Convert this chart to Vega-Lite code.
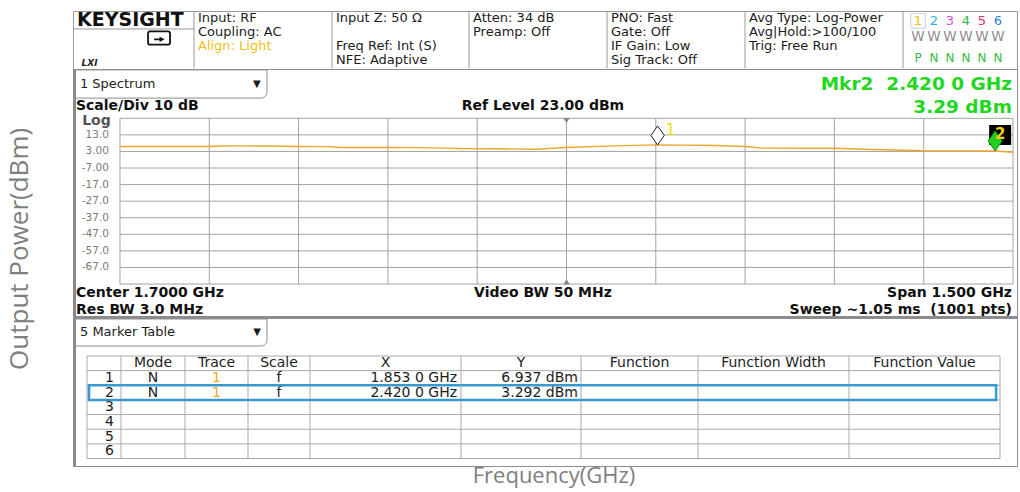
{
  "$schema": "https://vega.github.io/schema/vega-lite/v6.json",
  "background": "white",
  "padding": {"left": 6, "top": 10, "right": 0, "bottom": 0},
  "config": {
    "view": {"stroke": null},
    "axis": {"disable": true},
    "legend": {"disable": true},
    "text": {"font": "DejaVu Sans"}
  },
  "title": {"text": "Output Power(dBm)", "orient": "left", "anchor": "middle", "font": "Open Sans", "fontSize": 26, "fontWeight": "normal", "color": "#7f7f7f", "offset": 39},
  "spacing": 0,
  "bounds": "flush",
  "vconcat": [
    {
      "width": 944, "height": 58,
      "view": {"stroke": "#9a9a9a", "fill": "white"},
      "resolve": {"scale": {"x": "independent", "color": "independent"}},
      "layer": [
        {
          "layer": [
            {
              "data": {"values": [{"edge": 1}, {"edge": 2}, {"edge": 3}, {"edge": 4}, {"edge": 5}, {"edge": 6}]},
              "mark": {"type": "rule", "color": "#9a9a9a"},
              "encoding": {
                "x": {"field": "edge", "type": "quantitative", "scale": {"domain": [0, 1, 2, 3, 4, 5, 6, 7], "range": [0, 121, 259, 396, 534, 672, 830, 944], "nice": false, "zero": false}},
                "y": {"datum": 0.55, "type": "quantitative", "scale": {"domain": [0.525, 4.64], "range": [0, 58], "nice": false, "zero": false}},
                "y2": {"datum": 4.6}
              }
            },
            {
              "data": {"values": [{}]},
              "mark": {"type": "rule", "color": "#9a9a9a"},
              "encoding": {
                "x": {"datum": 0, "type": "quantitative"},
                "x2": {"datum": 1},
                "y": {"datum": 1.8, "type": "quantitative"}
              }
            },
            {
              "data": {"values": [{"brand": "KEYSIGHT"}]},
              "mark": {"type": "text", "fontWeight": "bold", "fontSize": 19, "align": "left", "baseline": "middle", "color": "#111111"},
              "encoding": {"x": {"datum": 0.033, "type": "quantitative"}, "y": {"datum": 1.16, "type": "quantitative"}, "text": {"field": "brand"}}
            },
            {
              "data": {"values": [{"t": "LXI"}]},
              "mark": {"type": "text", "fontStyle": "italic", "fontWeight": "bold", "fontSize": 9, "align": "left", "baseline": "middle", "color": "#222222"},
              "encoding": {"x": {"datum": 0.07, "type": "quantitative"}, "y": {"datum": 4.21, "type": "quantitative"}, "text": {"field": "t"}}
            },
            {
              "data": {"values": [{}]},
              "mark": {"type": "point", "shape": "M-0.8,-0.6L0.8,-0.6Q1,-0.6 1,-0.4L1,0.4Q1,0.6 0.8,0.6L-0.8,0.6Q-1,0.6 -1,0.4L-1,-0.4Q-1,-0.6 -0.8,-0.6Z", "size": 484, "filled": false, "color": "#111111", "strokeWidth": 1.8, "opacity": 1},
              "encoding": {"x": {"datum": 0.711, "type": "quantitative"}, "y": {"datum": 2.44, "type": "quantitative"}}
            },
            {
              "data": {"values": [{}]},
              "mark": {"type": "point", "shape": "M-0.45,0.05H0.1V0.2H-0.45Z M0.05,-0.12L0.5,0.12L0.05,0.36Z", "size": 484, "filled": true, "color": "#111111", "opacity": 1},
              "encoding": {"x": {"datum": 0.711, "type": "quantitative"}, "y": {"datum": 2.44, "type": "quantitative"}}
            },
            {
              "data": {"values": [
                {"col": 1, "line": 1, "text": "Input: RF"},
                {"col": 1, "line": 2, "text": "Coupling: AC"},
                {"col": 1, "line": 3, "text": "Align: Light"},
                {"col": 2, "line": 1, "text": "Input Z: 50 Ω"},
                {"col": 2, "line": 3, "text": "Freq Ref: Int (S)"},
                {"col": 2, "line": 4, "text": "NFE: Adaptive"},
                {"col": 3, "line": 1, "text": "Atten: 34 dB"},
                {"col": 3, "line": 2, "text": "Preamp: Off"},
                {"col": 4, "line": 1, "text": "PNO: Fast"},
                {"col": 4, "line": 2, "text": "Gate: Off"},
                {"col": 4, "line": 3, "text": "IF Gain: Low"},
                {"col": 4, "line": 4, "text": "Sig Track: Off"},
                {"col": 5, "line": 1, "text": "Avg Type: Log-Power"},
                {"col": 5, "line": 2, "text": "Avg|Hold:>100/100"},
                {"col": 5, "line": 3, "text": "Trig: Free Run"}
              ]},
              "mark": {"type": "text", "fontSize": 13, "align": "left", "baseline": "middle", "dx": 4},
              "encoding": {
                "x": {"field": "col", "type": "quantitative"},
                "y": {"field": "line", "type": "quantitative"},
                "text": {"field": "text"},
                "color": {"condition": {"test": "datum.text === 'Align: Light'", "value": "#f0c020"}, "value": "#1c1c1c"}
              }
            }
          ]
        },
        {
          "data": {"values": [
            {"trace": 1, "det": "P"}, {"trace": 2, "det": "N"}, {"trace": 3, "det": "N"},
            {"trace": 4, "det": "N"}, {"trace": 5, "det": "N"}, {"trace": 6, "det": "N"}
          ]},
          "encoding": {"x": {"field": "trace", "type": "quantitative", "scale": {"domain": [1, 6], "range": [845, 925], "nice": false, "zero": false}}},
          "layer": [
            {
              "transform": [{"filter": "datum.trace == 1"}],
              "mark": {"type": "point", "shape": "square", "size": 210, "filled": false, "color": "#c5d3e0", "strokeWidth": 1, "opacity": 1},
              "encoding": {"y": {"datum": 1.23, "type": "quantitative"}}
            },
            {
              "mark": {"type": "text", "fontSize": 13, "baseline": "middle"},
              "encoding": {
                "y": {"datum": 1.23, "type": "quantitative"},
                "text": {"field": "trace", "type": "nominal"},
                "color": {"field": "trace", "type": "nominal", "scale": {"domain": [1, 2, 3, 4, 5, 6], "range": ["#f2c200", "#2bb3e6", "#d94fd9", "#33b34a", "#e0336a", "#2f7fe0"]}}
              }
            },
            {
              "mark": {"type": "text", "fontSize": 13.5, "baseline": "middle", "color": "#8c8c8c", "text": "W"},
              "encoding": {"y": {"datum": 2.37, "type": "quantitative"}}
            },
            {
              "mark": {"type": "text", "fontSize": 12, "baseline": "middle", "color": "#3cb34a"},
              "encoding": {"y": {"datum": 3.86, "type": "quantitative"}, "text": {"field": "det"}}
            }
          ]
        }
      ]
    },
    {
      "width": 944, "height": 249,
      "view": {"stroke": "#8f8f8f", "fill": "white"},
      "layer": [
        {
          "data": {"values": [{}]},
          "mark": {"type": "rect", "fill": "white", "stroke": "#8c8c8c", "strokeWidth": 1, "cornerRadiusBottomRight": 6},
          "encoding": {
            "x": {"datum": 0.8728, "type": "quantitative", "scale": {"domain": [0.8711, 2.4567], "nice": false, "zero": false}},
            "x2": {"datum": 1.197},
            "y": {"datum": 52.2, "type": "quantitative", "scale": {"domain": [-97.5, 52.75], "nice": false, "zero": false}},
            "y2": {"datum": 35.2}
          }
        },
        {
          "data": {"values": [{"t": "1 Spectrum"}]},
          "mark": {"type": "text", "fontSize": 13, "align": "left", "baseline": "middle", "color": "#1c1c1c"},
          "encoding": {"x": {"datum": 0.8828, "type": "quantitative"}, "y": {"datum": 43.4, "type": "quantitative"}, "text": {"field": "t"}}
        },
        {
          "data": {"values": [{"t": "▼"}]},
          "mark": {"type": "text", "fontSize": 10, "align": "center", "baseline": "middle", "color": "#1c1c1c"},
          "encoding": {"x": {"datum": 1.180, "type": "quantitative"}, "y": {"datum": 43.4, "type": "quantitative"}, "text": {"field": "t"}}
        },
        {
          "data": {"values": [{"ghz": 0.95}, {"ghz": 1.1}, {"ghz": 1.25}, {"ghz": 1.4}, {"ghz": 1.55}, {"ghz": 1.7}, {"ghz": 1.85}, {"ghz": 2.0}, {"ghz": 2.15}, {"ghz": 2.3}, {"ghz": 2.45}]},
          "mark": {"type": "rule", "color": "#a3a3a3", "strokeWidth": 1},
          "encoding": {"x": {"field": "ghz", "type": "quantitative"}, "y": {"datum": -77, "type": "quantitative"}, "y2": {"datum": 23}}
        },
        {
          "data": {"values": [{"level": 23}, {"level": 13}, {"level": 3}, {"level": -7}, {"level": -17}, {"level": -27}, {"level": -37}, {"level": -47}, {"level": -57}, {"level": -67}, {"level": -77}]},
          "mark": {"type": "rule", "color": "#a3a3a3", "strokeWidth": 1},
          "encoding": {"y": {"field": "level", "type": "quantitative"}, "x": {"datum": 0.95, "type": "quantitative"}, "x2": {"datum": 2.45}}
        },
        {
          "data": {"values": [
            {"level": 13, "label": "13.0"}, {"level": 3, "label": "3.00"}, {"level": -7, "label": "-7.00"},
            {"level": -17, "label": "-17.0"}, {"level": -27, "label": "-27.0"}, {"level": -37, "label": "-37.0"},
            {"level": -47, "label": "-47.0"}, {"level": -57, "label": "-57.0"}, {"level": -67, "label": "-67.0"}
          ]},
          "mark": {"type": "text", "fontSize": 10.5, "align": "right", "baseline": "middle", "color": "#7a7a7a"},
          "encoding": {"x": {"datum": 0.9315, "type": "quantitative"}, "y": {"field": "level", "type": "quantitative"}, "text": {"field": "label"}}
        },
        {
          "data": {"values": [{}]},
          "mark": {"type": "point", "shape": "triangle-down", "size": 40, "filled": true, "color": "#8a8a8a", "opacity": 1},
          "encoding": {"x": {"datum": 1.7, "type": "quantitative"}, "y": {"datum": 21.6, "type": "quantitative"}}
        },
        {
          "data": {"values": [{}]},
          "mark": {"type": "point", "shape": "triangle-up", "size": 40, "filled": true, "color": "#8a8a8a", "opacity": 1},
          "encoding": {"x": {"datum": 1.7, "type": "quantitative"}, "y": {"datum": -75.6, "type": "quantitative"}}
        },
        {
          "data": {"values": [
            {"ghz": 0.95, "dbm": 5.95}, {"ghz": 1.05, "dbm": 5.95}, {"ghz": 1.1, "dbm": 6.0}, {"ghz": 1.12, "dbm": 6.3},
            {"ghz": 1.16, "dbm": 6.35}, {"ghz": 1.2, "dbm": 6.3}, {"ghz": 1.25, "dbm": 5.95}, {"ghz": 1.3, "dbm": 5.9},
            {"ghz": 1.32, "dbm": 5.4}, {"ghz": 1.4, "dbm": 5.35}, {"ghz": 1.45, "dbm": 5.3}, {"ghz": 1.5, "dbm": 5.0},
            {"ghz": 1.52, "dbm": 4.75}, {"ghz": 1.58, "dbm": 4.6}, {"ghz": 1.65, "dbm": 4.35}, {"ghz": 1.7, "dbm": 5.35},
            {"ghz": 1.78, "dbm": 6.35}, {"ghz": 1.853, "dbm": 6.94}, {"ghz": 1.9, "dbm": 6.8}, {"ghz": 1.95, "dbm": 6.55},
            {"ghz": 2.0, "dbm": 6.0}, {"ghz": 2.03, "dbm": 5.0}, {"ghz": 2.1, "dbm": 4.95}, {"ghz": 2.15, "dbm": 4.95},
            {"ghz": 2.2, "dbm": 4.35}, {"ghz": 2.25, "dbm": 3.9}, {"ghz": 2.3, "dbm": 3.4}, {"ghz": 2.36, "dbm": 3.35},
            {"ghz": 2.42, "dbm": 3.29}, {"ghz": 2.45, "dbm": 2.5}
          ]},
          "mark": {"type": "line", "color": "#f2a32c", "strokeWidth": 1.4},
          "encoding": {"x": {"field": "ghz", "type": "quantitative"}, "y": {"field": "dbm", "type": "quantitative"}}
        },
        {
          "data": {"values": [{"mkr": "1", "ghz": 1.853, "dbm": 6.937}, {"mkr": "2", "ghz": 2.42, "dbm": 3.292}]},
          "layer": [
            {
              "transform": [{"filter": "datum.mkr == '2'"}],
              "mark": {"type": "point", "shape": "M-1.2,-5.2H3.2V-1.2H-1.2Z", "size": 100, "filled": true, "color": "#000000", "opacity": 1}
            },
            {
              "transform": [{"filter": "datum.mkr == '1'"}],
              "mark": {"type": "point", "shape": "M0,0L-0.7,-1L0,-2L0.7,-1Z", "size": 361, "filled": true, "fill": "white", "stroke": "#222222", "strokeWidth": 1, "opacity": 1}
            },
            {
              "transform": [{"filter": "datum.mkr == '2'"}],
              "mark": {"type": "point", "shape": "M0,0L-0.7,-1L0,-2L0.7,-1Z", "size": 400, "filled": true, "fill": "#22d022", "stroke": "#118811", "strokeWidth": 1, "opacity": 1}
            },
            {
              "transform": [{"filter": "datum.mkr == '1'"}],
              "mark": {"type": "text", "fontSize": 15, "align": "center", "baseline": "middle", "color": "#f0dc20", "dx": 13, "dy": -15},
              "encoding": {"text": {"field": "mkr"}}
            },
            {
              "transform": [{"filter": "datum.mkr == '2'"}],
              "mark": {"type": "text", "fontSize": 15, "fontWeight": "bold", "align": "center", "baseline": "middle", "color": "#f0d010", "dx": 5, "dy": -17},
              "encoding": {"text": {"field": "mkr"}}
            }
          ],
          "encoding": {"x": {"field": "ghz", "type": "quantitative"}, "y": {"field": "dbm", "type": "quantitative"}}
        },
        {
          "data": {"values": [
            {"text": "Scale/Div 10 dB", "ghz": 0.8761, "dbm": 30.6},
            {"text": "Center 1.7000 GHz", "ghz": 0.8761, "dbm": -82.4},
            {"text": "Res BW 3.0 MHz", "ghz": 0.8761, "dbm": -92.4}
          ]},
          "mark": {"type": "text", "fontSize": 14, "fontWeight": "bold", "align": "left", "baseline": "middle", "color": "#111111"},
          "encoding": {"x": {"field": "ghz", "type": "quantitative"}, "y": {"field": "dbm", "type": "quantitative"}, "text": {"field": "text"}}
        },
        {
          "data": {"values": [
            {"text": "Ref Level 23.00 dBm", "ghz": 1.6605, "dbm": 30.6},
            {"text": "Video BW 50 MHz", "ghz": 1.6605, "dbm": -82.4}
          ]},
          "mark": {"type": "text", "fontSize": 14, "fontWeight": "bold", "align": "center", "baseline": "middle", "color": "#111111"},
          "encoding": {"x": {"field": "ghz", "type": "quantitative"}, "y": {"field": "dbm", "type": "quantitative"}, "text": {"field": "text"}}
        },
        {
          "data": {"values": [
            {"text": "Span 1.500 GHz", "ghz": 2.4483, "dbm": -82.4},
            {"text": "Sweep ~1.05 ms\u00a0 (1001 pts)", "ghz": 2.4483, "dbm": -92.4}
          ]},
          "mark": {"type": "text", "fontSize": 14, "fontWeight": "bold", "align": "right", "baseline": "middle", "color": "#111111"},
          "encoding": {"x": {"field": "ghz", "type": "quantitative"}, "y": {"field": "dbm", "type": "quantitative"}, "text": {"field": "text"}}
        },
        {
          "data": {"values": [
            {"text": "Mkr2\u00a0 2.420 0 GHz", "ghz": 2.4483, "dbm": 43.9},
            {"text": "3.29 dBm", "ghz": 2.4483, "dbm": 29.8}
          ]},
          "mark": {"type": "text", "fontSize": 18.5, "fontWeight": "bold", "align": "right", "baseline": "middle", "color": "#22d622"},
          "encoding": {"x": {"field": "ghz", "type": "quantitative"}, "y": {"field": "dbm", "type": "quantitative"}, "text": {"field": "text"}}
        },
        {
          "data": {"values": [{"text": "Log"}]},
          "mark": {"type": "text", "fontSize": 14, "fontWeight": "bold", "align": "center", "baseline": "middle", "color": "#555555"},
          "encoding": {"x": {"datum": 0.9105, "type": "quantitative"}, "y": {"datum": 21.4, "type": "quantitative"}, "text": {"field": "text"}}
        },
        {
          "data": {"values": [{}]},
          "mark": {"type": "rect", "color": "#8a8a8a"},
          "encoding": {"x": {"datum": 0.8711, "type": "quantitative"}, "x2": {"datum": 0.8761}, "y": {"datum": 52.75, "type": "quantitative"}, "y2": {"datum": -97.5}}
        },
        {
          "data": {"values": [{}]},
          "mark": {"type": "rect", "color": "#8a8a8a"},
          "encoding": {"x": {"datum": 0.8711, "type": "quantitative"}, "x2": {"datum": 2.4567}, "y": {"datum": -97.5, "type": "quantitative"}, "y2": {"datum": -96.3}}
        }
      ]
    },
    {
      "width": 944, "height": 148,
      "view": {"stroke": "#8f8f8f", "fill": "white"},
      "title": {"text": "Frequency(GHz)", "orient": "bottom", "anchor": "middle", "baseline": "alphabetic", "offset": 17, "dx": 9, "font": "Open Sans", "fontSize": 22, "fontWeight": "normal", "color": "#7f7f7f"},
      "layer": [
        {
          "data": {"values": [{}]},
          "mark": {"type": "rect", "fill": "white", "stroke": "#8c8c8c", "strokeWidth": 1, "cornerRadiusBottomRight": 6},
          "encoding": {
            "x": {"datum": -0.882, "type": "quantitative", "scale": {"domain": [-0.5, 0.5, 1.5, 2.5, 3.5, 4.5, 5.5, 6.5, 7.5, 8.5], "range": [14, 48, 112, 175, 237, 388, 508, 625, 776, 927], "nice": false, "zero": false}},
            "x2": {"datum": 2.806},
            "y": {"datum": -3.028, "type": "quantitative", "scale": {"domain": [-3.096, 7.012], "range": [0, 148], "nice": false, "zero": false}},
            "y2": {"datum": -1.184}
          }
        },
        {
          "data": {"values": [{"t": "5 Marker Table"}]},
          "mark": {"type": "text", "fontSize": 13, "align": "left", "baseline": "middle", "color": "#1c1c1c"},
          "encoding": {"x": {"datum": -0.706, "type": "quantitative"}, "y": {"datum": -2.106, "type": "quantitative"}, "text": {"field": "t"}}
        },
        {
          "data": {"values": [{"t": "▼"}]},
          "mark": {"type": "text", "fontSize": 10, "align": "center", "baseline": "middle", "color": "#1c1c1c"},
          "encoding": {"x": {"datum": 2.645, "type": "quantitative"}, "y": {"datum": -2.106, "type": "quantitative"}, "text": {"field": "t"}}
        },
        {
          "data": {"values": [{"e": -0.5}, {"e": 0.5}, {"e": 1.5}, {"e": 2.5}, {"e": 3.5}, {"e": 4.5}, {"e": 5.5}, {"e": 6.5}, {"e": 7.5}, {"e": 8.5}]},
          "mark": {"type": "rule", "color": "#a9a9a9", "strokeWidth": 1},
          "encoding": {"x": {"field": "e", "type": "quantitative"}, "y": {"datum": -0.5, "type": "quantitative"}, "y2": {"datum": 6.5}}
        },
        {
          "data": {"values": [{"e": -0.5}, {"e": 0.5}, {"e": 1.5}, {"e": 2.5}, {"e": 3.5}, {"e": 4.5}, {"e": 5.5}, {"e": 6.5}]},
          "mark": {"type": "rule", "color": "#a9a9a9", "strokeWidth": 1},
          "encoding": {"y": {"field": "e", "type": "quantitative"}, "x": {"datum": -0.5, "type": "quantitative"}, "x2": {"datum": 8.5}}
        },
        {
          "data": {"values": [
            {"col": 1, "name": "Mode"}, {"col": 2, "name": "Trace"}, {"col": 3, "name": "Scale"}, {"col": 4, "name": "X"},
            {"col": 5, "name": "Y"}, {"col": 6, "name": "Function"}, {"col": 7, "name": "Function Width"}, {"col": 8, "name": "Function Value"}
          ]},
          "mark": {"type": "text", "fontSize": 14, "align": "center", "baseline": "middle", "color": "#1c1c1c"},
          "encoding": {"x": {"field": "col", "type": "quantitative"}, "y": {"datum": 0, "type": "quantitative"}, "text": {"field": "name"}}
        },
        {
          "data": {"values": [{"row": 1}, {"row": 2}, {"row": 3}, {"row": 4}, {"row": 5}, {"row": 6}]},
          "mark": {"type": "text", "fontSize": 14, "align": "right", "baseline": "middle", "color": "#1c1c1c"},
          "encoding": {"x": {"datum": 0.29, "type": "quantitative"}, "y": {"field": "row", "type": "quantitative"}, "text": {"field": "row", "type": "nominal"}}
        },
        {
          "data": {"values": [
            {"row": 1, "mode": "N", "trace": "1", "scale": "f", "x": "1.853 0 GHz", "y": "6.937 dBm"},
            {"row": 2, "mode": "N", "trace": "1", "scale": "f", "x": "2.420 0 GHz", "y": "3.292 dBm"}
          ]},
          "encoding": {"y": {"field": "row", "type": "quantitative"}},
          "layer": [
            {
              "mark": {"type": "text", "fontSize": 14, "align": "center", "baseline": "middle", "color": "#1c1c1c"},
              "encoding": {"x": {"datum": 1, "type": "quantitative"}, "text": {"field": "mode"}}
            },
            {
              "mark": {"type": "text", "fontSize": 14, "align": "center", "baseline": "middle", "color": "#f5a623"},
              "encoding": {"x": {"datum": 2, "type": "quantitative"}, "text": {"field": "trace"}}
            },
            {
              "mark": {"type": "text", "fontSize": 14, "align": "center", "baseline": "middle", "color": "#1c1c1c"},
              "encoding": {"x": {"datum": 3, "type": "quantitative"}, "text": {"field": "scale"}}
            },
            {
              "mark": {"type": "text", "fontSize": 14, "align": "right", "baseline": "middle", "color": "#1c1c1c"},
              "encoding": {"x": {"datum": 4.474, "type": "quantitative"}, "text": {"field": "x"}}
            },
            {
              "mark": {"type": "text", "fontSize": 14, "align": "right", "baseline": "middle", "color": "#1c1c1c"},
              "encoding": {"x": {"datum": 5.475, "type": "quantitative"}, "text": {"field": "y"}}
            }
          ]
        },
        {
          "data": {"values": [{}]},
          "mark": {"type": "rect", "fillOpacity": 0, "stroke": "#3a98d0", "strokeWidth": 2.5},
          "encoding": {"x": {"datum": -0.44, "type": "quantitative"}, "x2": {"datum": 8.474}, "y": {"datum": 1.5, "type": "quantitative"}, "y2": {"datum": 2.5}}
        },
        {
          "data": {"values": [{}]},
          "mark": {"type": "rect", "color": "#8a8a8a"},
          "encoding": {"x": {"datum": -0.912, "type": "quantitative"}, "x2": {"datum": -0.824}, "y": {"datum": -3.096, "type": "quantitative"}, "y2": {"datum": 7.012}}
        }
      ]
    }
  ]
}
